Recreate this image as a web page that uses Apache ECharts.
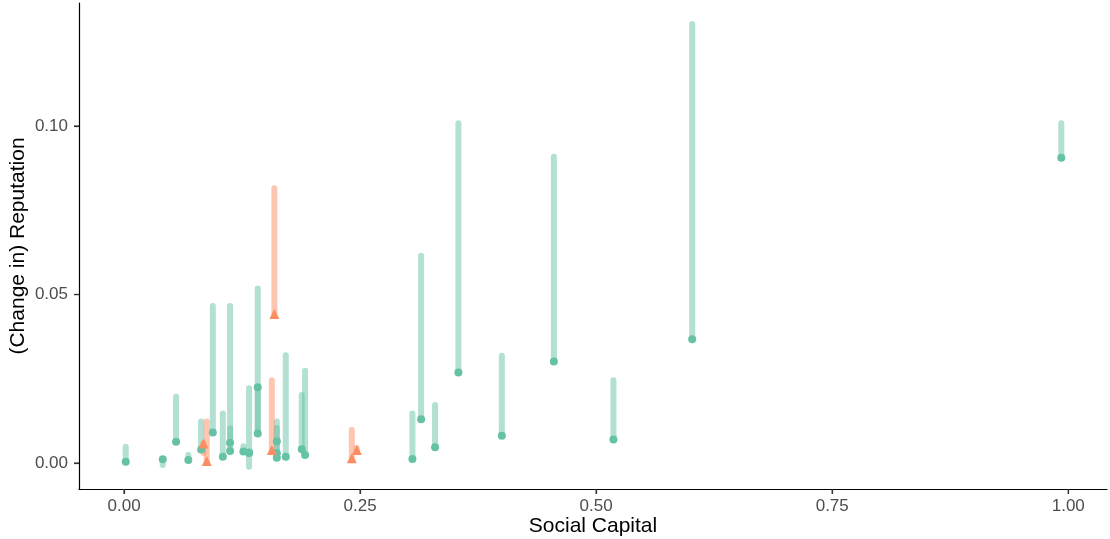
<!DOCTYPE html>
<html>
<head>
<meta charset="utf-8">
<script src="https://cdn.jsdelivr.net/npm/echarts@6/dist/echarts.min.js"></script>
<style>
  html, body { margin: 0; padding: 0; background: #fff; }
  #chart { width: 1110px; height: 539px; }
</style>
</head>
<body>
<div id="chart"></div>
<script>
// green group: social capital, reputation (point), reputation after change (segment end)
const greenX = [0.0018, 0.041, 0.0551, 0.0681, 0.0816, 0.094, 0.1046, 0.1123, 0.1123, 0.1264, 0.1324, 0.1324, 0.1416, 0.1416, 0.1618, 0.1618, 0.1618, 0.1713, 0.1882, 0.1917, 0.3054, 0.3146, 0.3294, 0.3541, 0.4001, 0.4552, 0.5183, 0.6017, 0.9926]
const greenRep = [0.0004, 0.0011, 0.0063, 0.0009, 0.0040, 0.0091, 0.0019, 0.0060, 0.0036, 0.0034, 0.0030, 0.0031, 0.0088, 0.0225, 0.0065, 0.0029, 0.0016, 0.0019, 0.0041, 0.0024, 0.0012, 0.0130, 0.0047, 0.0269, 0.0081, 0.0301, 0.0070, 0.0367, 0.0906]
const greenEnd = [0.0048, -0.0006, 0.0197, 0.0024, 0.0123, 0.0466, 0.0147, 0.0466, 0.0103, 0.0050, 0.0222, -0.0011, 0.0518, 0.0088, 0.0123, 0.0104, 0.0065, 0.0320, 0.0202, 0.0274, 0.0147, 0.0615, 0.0172, 0.1008, 0.0318, 0.0909, 0.0246, 0.1303, 0.1008]

// orange group
const orangeX = [0.084, 0.0876, 0.1565, 0.1592, 0.2412, 0.2465]
const orangeRep = [0.0058, 0.0006, 0.0039, 0.0442, 0.0014, 0.0039]
const orangeEnd = [0.0030, 0.0123, 0.0246, 0.0815, 0.0098, 0.0045]

const xTicks = [0, 0.25, 0.5, 0.75, 1]
const yTicks = [0, 0.05, 0.1]

const X_MIN = -0.0477, X_MAX = 1.041
const Y_MIN = -0.0077, Y_MAX = 0.1365

const GREEN = '#66C2A5'
const ORANGE = '#FC8D62'

const segRows = (xs, a, b) => xs.map((x, i) => [x, a[i], b[i]])
const ptRows = (xs, a) => xs.map((x, i) => [x, a[i]])

const segmentSeries = (rows, color) => ({
  type: 'custom',
  data: rows,
  encode: { x: 0, y: [1, 2] },
  silent: true,
  renderItem: (params, api) => {
    const p0 = api.coord([api.value(0), api.value(1)])
    const p1 = api.coord([api.value(0), api.value(2)])
    return {
      type: 'line',
      shape: { x1: p0[0], y1: p0[1], x2: p1[0], y2: p1[1] },
      style: { stroke: color, lineWidth: 6, lineCap: 'round', opacity: 0.5 }
    }
  }
})

// tick marks, placed through the axis scales (dx, dy = direction outward)
const tickSeries = (rows, dx, dy) => ({
  type: 'custom',
  data: rows,
  encode: { x: 0, y: 1 },
  silent: true,
  clip: false,
  z: 10,
  renderItem: (params, api) => {
    const p = api.coord([api.value(0), api.value(1)])
    return {
      type: 'line',
      shape: { x1: p[0], y1: p[1], x2: p[0] + dx * 5, y2: p[1] + dy * 5 },
      style: { stroke: '#333333', lineWidth: 1.2 }
    }
  }
})

const chart = echarts.init(document.getElementById('chart'))

const labelFont = { color: '#4D4D4D', fontSize: 17, fontFamily: 'Liberation Sans, Arial, sans-serif' }
const titleFont = { color: '#000', fontSize: 21, fontFamily: 'Liberation Sans, Arial, sans-serif' }

chart.setOption({
  animation: false,
  grid: { left: 79, right: 3, top: 3, bottom: 50, outerBoundsMode: 'none' },
  xAxis: {
    type: 'value',
    min: X_MIN,
    max: X_MAX,
    name: 'Social Capital',
    nameLocation: 'middle',
    nameGap: 27,
    nameMoveOverlap: false,
    nameTextStyle: titleFont,
    splitLine: { show: false },
    axisLine: { show: true, onZero: false, lineStyle: { color: '#000', width: 1.2 } },
    axisTick: { show: true, length: 5, lineStyle: { color: '#333333', width: 1.2 }, customValues: xTicks },
    axisLabel: { ...labelFont, margin: 9, customValues: xTicks, formatter: v => v.toFixed(2) }
  },
  yAxis: {
    type: 'value',
    min: Y_MIN,
    max: Y_MAX,
    name: '(Change in) Reputation',
    nameLocation: 'middle',
    nameGap: 50,
    nameMoveOverlap: false,
    nameTextStyle: titleFont,
    splitLine: { show: false },
    axisLine: { show: true, onZero: false, lineStyle: { color: '#000', width: 1.2 } },
    axisTick: { show: true, length: 5, lineStyle: { color: '#333333', width: 1.2 }, customValues: yTicks },
    axisLabel: { ...labelFont, margin: 11, customValues: yTicks, formatter: v => v.toFixed(2) }
  },
  series: [
    segmentSeries(segRows(greenX, greenRep, greenEnd), GREEN),
    segmentSeries(segRows(orangeX, orangeRep, orangeEnd), ORANGE),
    {
      type: 'scatter',
      data: ptRows(greenX, greenRep),
      symbol: 'circle',
      symbolSize: 8,
      itemStyle: { color: GREEN, opacity: 1 }
    },
    {
      type: 'scatter',
      data: ptRows(orangeX, orangeRep),
      symbol: 'triangle',
      symbolSize: 10,
      itemStyle: { color: ORANGE, opacity: 1 }
    },
    tickSeries(xTicks.map(v => [v, Y_MIN]), 0, 1),
    tickSeries(yTicks.map(v => [X_MIN, v]), -1, 0)
  ]
})
</script>
</body>
</html>
